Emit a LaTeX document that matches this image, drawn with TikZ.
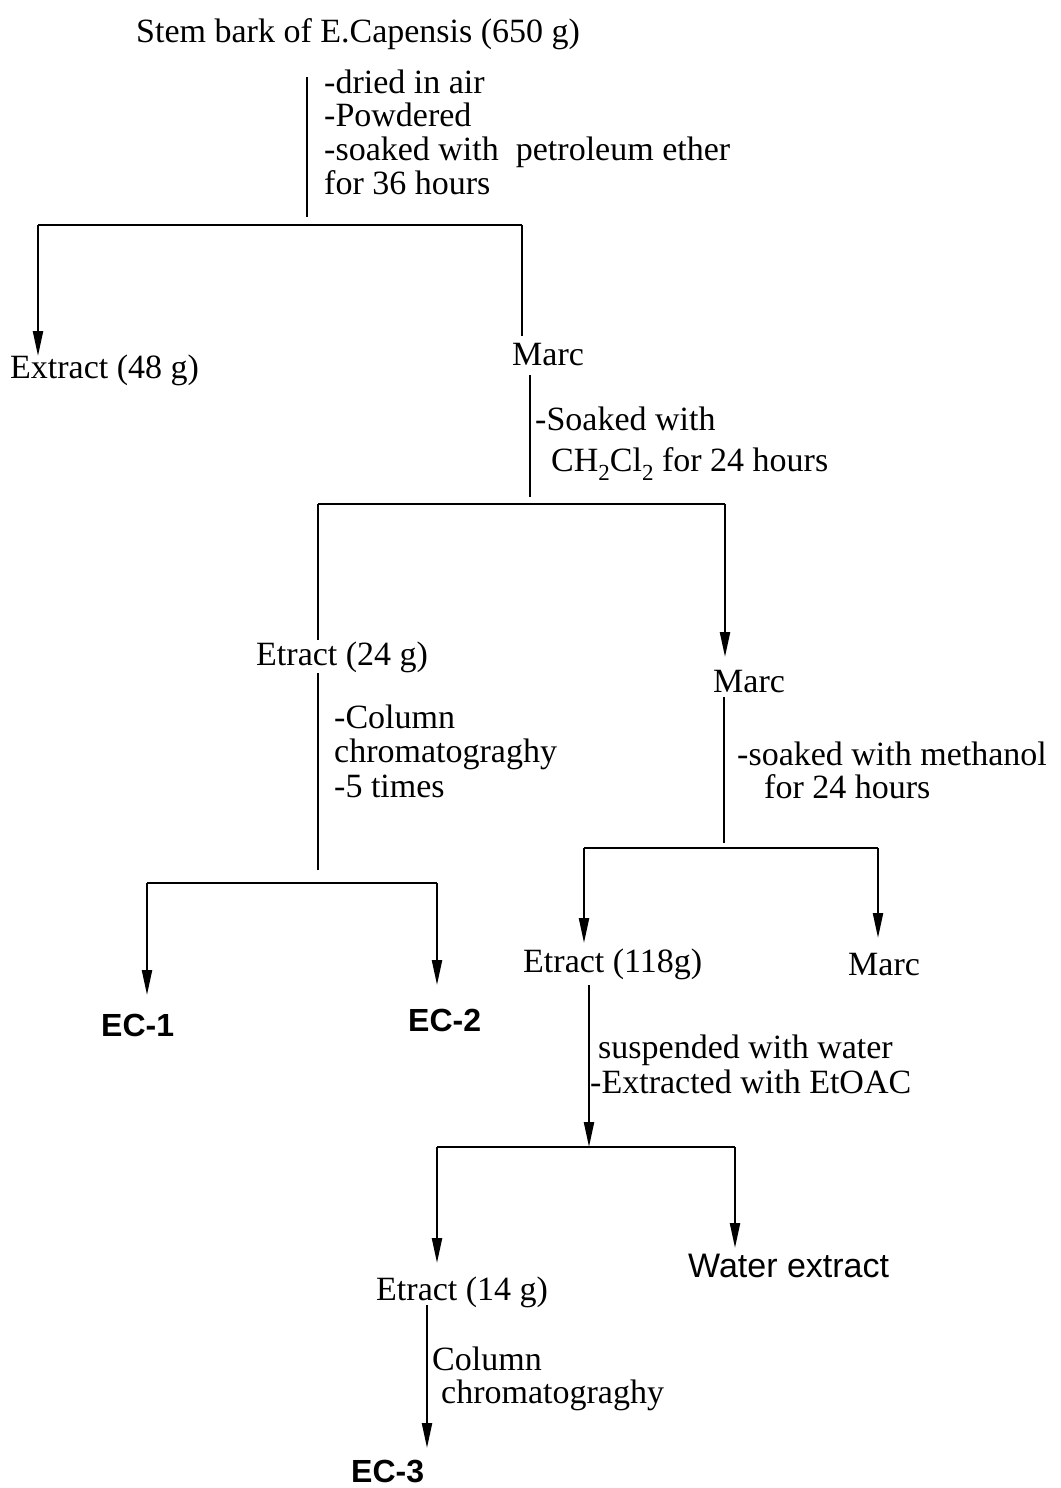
\documentclass[tikz,border=0pt]{standalone}
\usepackage{fontspec}
\setmainfont{Liberation Serif}
\newfontfamily\sansf{Liberation Sans}
\usetikzlibrary{arrows.meta}
\newcommand{\lowsub}[1]{\raisebox{-0.28em}{\fontsize{23}{23}\selectfont #1}}
\tikzset{
  txt/.style={inner sep=0pt, anchor=base west, font=\fontsize{34}{40}\selectfont},
  bold/.style={inner sep=0pt, anchor=base west, font=\sansf\bfseries\fontsize{32}{38}\selectfont},
  sans/.style={inner sep=0pt, anchor=base west, font=\sansf\fontsize{34}{40}\selectfont},
  thin/.style={line width=1.5pt},
  branch/.style={line width=2.6pt},
  arr/.style={line width=2.2pt, -{Triangle[length=25pt,width=10pt]}},
}
\begin{document}
\begin{tikzpicture}[x=1pt,y=-1pt]
\useasboundingbox (0,0) rectangle (1060,1488);
% texts
\node[txt] (title) at (136,43) {Stem bark of E.Capensis (650 g)};
\node[txt] (a1) at (324,93) {-dried in air};
\node[txt] (a2) at (324,126) {-Powdered};
\node[txt] (a3) at (324,160) {-soaked with \ petroleum ether};
\node[txt] (a4) at (324,194) {for 36 hours};
\node[txt] (ext48) at (10,378) {Extract (48 g)};
\node[txt] (marc1) at (512,365) {Marc};
\node[txt] (b1) at (535,430) {-Soaked with};
\node[txt] (b2) at (551,471) {CH\lowsub{2}Cl\lowsub{2} for 24 hours};
\node[txt] (et24) at (256,665) {Etract (24 g)};
\node[txt] (marc2) at (713,692) {Marc};
\node[txt] (c1) at (334,728) {-Column};
\node[txt] (c2) at (334,762) {chromatograghy};
\node[txt] (c3) at (334,797) {-5 times};
\node[txt] (d1) at (737,765) {-soaked with methanol};
\node[txt] (d2) at (764,798) {for 24 hours};
\node[bold] (ec1) at (101,1036) {EC-1};
\node[bold] (ec2) at (408,1031) {EC-2};
\node[txt] (et118) at (523,972) {Etract (118g)};
\node[txt] (marc3) at (848,975) {Marc};
\node[txt] (e1) at (598,1058) {suspended with water};
\node[txt] (e2) at (590,1093) {-Extracted with EtOAC};
\node[sans] (water) at (688,1277) {Water extract};
\node[txt] (et14) at (376,1300) {Etract (14 g)};
\node[txt] (f1) at (432,1370) {Column};
\node[txt] (f2) at (441,1403) {chromatograghy};
\node[bold] (ec3) at (351,1482) {EC-3};
% junction coordinates
\coordinate (s0) at (307,77);
\coordinate (s1) at (307,217);
\coordinate (h1l) at (38,225);
\coordinate (h1r) at (522,225);
\coordinate (t1l) at (38,356);
\coordinate (t1r) at (522,336);
\coordinate (m0) at (530,375);
\coordinate (m1) at (530,497);
\coordinate (h2l) at (318,504);
\coordinate (h2r) at (725,504);
\coordinate (t2l) at (318,640);
\coordinate (t2r) at (725,657);
\coordinate (g0) at (318,673);
\coordinate (g1) at (318,870);
\coordinate (h3l) at (147,883);
\coordinate (h3r) at (437,883);
\coordinate (t3l) at (147,995);
\coordinate (t3r) at (437,985);
\coordinate (k0) at (724,697);
\coordinate (k1) at (724,843);
\coordinate (h4l) at (584,848);
\coordinate (h4r) at (878,848);
\coordinate (t4l) at (584,943);
\coordinate (t4r) at (878,938);
\coordinate (n0) at (589,985);
\coordinate (h5m) at (589,1147);
\coordinate (h5l) at (437,1147);
\coordinate (h5r) at (735,1147);
\coordinate (t5l) at (437,1263);
\coordinate (t5r) at (735,1248);
\coordinate (q0) at (427,1305);
\coordinate (q1) at (427,1448);
% connectors
\draw[thin] (s0) -- (s1);
\draw[branch] (h1l) -- (h1r);
\draw[arr] (h1l) -- (t1l);
\draw[thin] (h1r) -- (t1r);
\draw[thin] (m0) -- (m1);
\draw[branch] (h2l) -- (h2r);
\draw[thin] (h2l) -- (t2l);
\draw[arr] (h2r) -- (t2r);
\draw[thin] (g0) -- (g1);
\draw[branch] (h3l) -- (h3r);
\draw[arr] (h3l) -- (t3l);
\draw[arr] (h3r) -- (t3r);
\draw[thin] (k0) -- (k1);
\draw[branch] (h4l) -- (h4r);
\draw[arr] (h4l) -- (t4l);
\draw[arr] (h4r) -- (t4r);
\draw[arr] (n0) -- (h5m);
\draw[branch] (h5l) -- (h5r);
\draw[arr] (h5l) -- (t5l);
\draw[arr] (h5r) -- (t5r);
\draw[arr] (q0) -- (q1);
\end{tikzpicture}
\end{document}
